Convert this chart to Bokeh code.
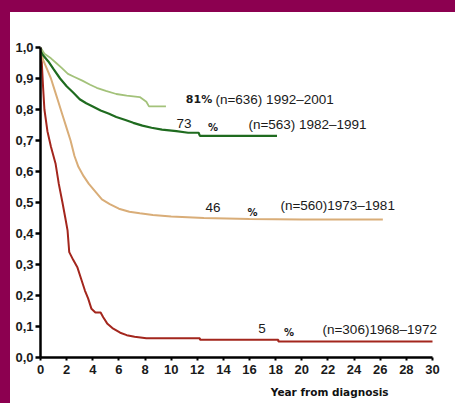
from bokeh.plotting import figure
from bokeh.models import Range1d, FixedTicker, CustomJSTickFormatter, Label, GlobalInlineStyleSheet
from bokeh.embed import file_html
from bokeh.resources import INLINE

# ---- data (years from diagnosis, survival fraction) ----
t_1992 = [0, 0.3, 0.8, 1.2, 1.6, 2.1, 2.6, 3.2, 3.8, 4.3, 5.0, 5.8, 6.6, 7.6, 8.1, 8.3, 9.6]
s_1992 = [1.0, 0.98, 0.965, 0.95, 0.935, 0.915, 0.905, 0.893, 0.88, 0.87, 0.86, 0.85, 0.845, 0.84, 0.825, 0.81, 0.81]

t_1982 = [0, 0.2, 0.6, 1.0, 1.5, 2.0, 2.5, 3.0, 3.5, 4.0, 4.6, 5.2, 5.8, 6.5, 7.1, 7.8, 8.5, 9.3, 10.4, 11.3, 12.1, 12.2, 18.1]
s_1982 = [1.0, 0.975, 0.955, 0.93, 0.9, 0.875, 0.855, 0.833, 0.82, 0.81, 0.797, 0.787, 0.776, 0.766, 0.757, 0.748, 0.741, 0.735, 0.73, 0.725, 0.725, 0.715, 0.715]

t_1973 = [0, 0.2, 0.5, 0.8, 1.1, 1.4, 1.7, 2.0, 2.3, 2.6, 2.9, 3.3, 3.7, 4.2, 4.7, 5.3, 6.0, 6.8, 7.6, 8.6, 10.0, 12.5, 16.0, 20.0, 26.2]
s_1973 = [1.0, 0.96, 0.93, 0.9, 0.86, 0.82, 0.78, 0.74, 0.7, 0.65, 0.615, 0.585, 0.56, 0.535, 0.51, 0.495, 0.48, 0.47, 0.465, 0.46, 0.455, 0.45, 0.447, 0.445, 0.445]

t_1968 = [0, 0.1, 0.2, 0.3, 0.53, 0.8, 1.15, 1.4, 1.68, 1.9, 2.07, 2.2, 2.5, 2.83, 3.1, 3.4, 3.65, 3.9, 4.2, 4.6, 4.8, 5.1, 5.5, 6.1, 6.6, 7.2, 8.1, 12.2, 12.2, 18.2, 18.2, 30.0]
s_1968 = [1.0, 0.95, 0.87, 0.8, 0.73, 0.68, 0.626, 0.56, 0.5, 0.45, 0.41, 0.34, 0.315, 0.29, 0.255, 0.216, 0.19, 0.157, 0.145, 0.145, 0.13, 0.11, 0.095, 0.08, 0.072, 0.067, 0.062, 0.062, 0.057, 0.057, 0.052, 0.052]

pct_labels = ["81", "73", "46", "5"]
n_labels = ["(n=636) 1992\u20132001", "(n=563) 1982\u20131991", "(n=560)1973\u20131981", "(n=306)1968\u20131972"]
x_ticks = list(range(0, 31, 2))
y_ticks = [0.0, 0.1, 0.2, 0.3, 0.4, 0.5, 0.6, 0.7, 0.8, 0.9, 1.0]
x_title = "Year from diagnosis"

SANS = "Liberation Sans"
VERD = "DejaVu Sans"

# 30 years span 392 px; the frame is a little wider so that right-hand texts are not clipped
X_END = 411 / (392 / 30.0)

p = figure(frame_width=411, frame_height=310,
           x_range=Range1d(0, X_END), y_range=Range1d(0, 1),
           output_backend="svg", toolbar_location=None,
           min_border_left=30, min_border_right=4, min_border_top=35, min_border_bottom=10,
           background_fill_color="white", border_fill_color="white")
p.outline_line_color = None
p.grid.visible = False

p.title.text = x_title
p.title_location = "below"
p.title.align = "right"
p.title.offset = 63
p.title.standoff = 15
p.title.text_font = VERD
p.title.text_font_style = "bold"
p.title.text_font_size = "10.5px"
p.title.text_color = "#111111"

css = ("html{background:linear-gradient(#8c0050,#8c0050) 0 0/100% 12px no-repeat,"
       "linear-gradient(#8c0050,#8c0050) 0 0/10px 100% no-repeat,#ffffff;}")
p.stylesheets = [GlobalInlineStyleSheet(css=css)]
p.styles = {"position": "relative", "left": "10px", "top": "12px"}

# curves
p.line(t_1968, s_1968, line_color="#a3261d", line_width=2)
p.line(t_1973, s_1973, line_color="#d9ad78", line_width=2)
p.line(t_1982, s_1982, line_color="#1f6b1f", line_width=2.2)
p.line(t_1992, s_1992, line_color="#a3c27a", line_width=1.8)

# axes
xa = p.xaxis[0]
xa.ticker = FixedTicker(ticks=x_ticks)
xa.bounds = (0, 30)
xa.axis_line_width = 2.5
xa.major_tick_in = 0
xa.major_tick_out = 3
xa.major_tick_line_width = 2
xa.minor_tick_line_color = None
xa.major_label_standoff = 4
xa.major_label_text_font = SANS
xa.major_label_text_font_style = "bold"
xa.major_label_text_font_size = "13px"
xa.major_label_text_color = "#1a1a1a"

ya = p.yaxis[0]
ya.ticker = FixedTicker(ticks=y_ticks)
ya.formatter = CustomJSTickFormatter(code="return tick.toFixed(1).replace('.', ',');")
ya.axis_line_width = 2.5
ya.major_tick_in = 0
ya.major_tick_out = 5
ya.major_tick_line_width = 2.5
ya.minor_tick_line_color = None
ya.major_label_standoff = 2
ya.major_label_text_font = SANS
ya.major_label_text_font_style = "bold"
ya.major_label_text_font_size = "13px"
ya.major_label_text_color = "#1a1a1a"

# annotations (positions in data units)
pct_pos = [(12.13, 0.832), (10.98, 0.755), (13.2, 0.484), (16.95, 0.094)]
sign_pos = [None, (13.2, 0.742), (16.22, 0.468), (19.01, 0.081)]
n_pos = [(13.39, 0.832), (15.91, 0.752), (18.36, 0.49), (21.58, 0.090)]

for i in range(4):
    if i == 0:
        p.add_layout(Label(x=pct_pos[i][0], y=pct_pos[i][1], text=pct_labels[i] + "%",
                           text_font=VERD, text_font_style="bold", text_font_size="11px",
                           text_align="center", text_baseline="middle", text_color="#1a1a1a"))
    else:
        p.add_layout(Label(x=pct_pos[i][0], y=pct_pos[i][1], text=pct_labels[i],
                           text_font=SANS, text_font_size="13.5px",
                           text_align="center", text_baseline="middle", text_color="#1a1a1a"))
        p.add_layout(Label(x=sign_pos[i][0], y=sign_pos[i][1], text="%",
                           text_font=VERD, text_font_style="bold", text_font_size="10px",
                           text_align="center", text_baseline="middle", text_color="#1a1a1a"))
    p.add_layout(Label(x=n_pos[i][0], y=n_pos[i][1], text=n_labels[i],
                       text_font=SANS, text_font_size="13.5px",
                       text_align="left", text_baseline="middle", text_color="#1a1a1a"))

open("out.html", "w").write(file_html(p, INLINE))
